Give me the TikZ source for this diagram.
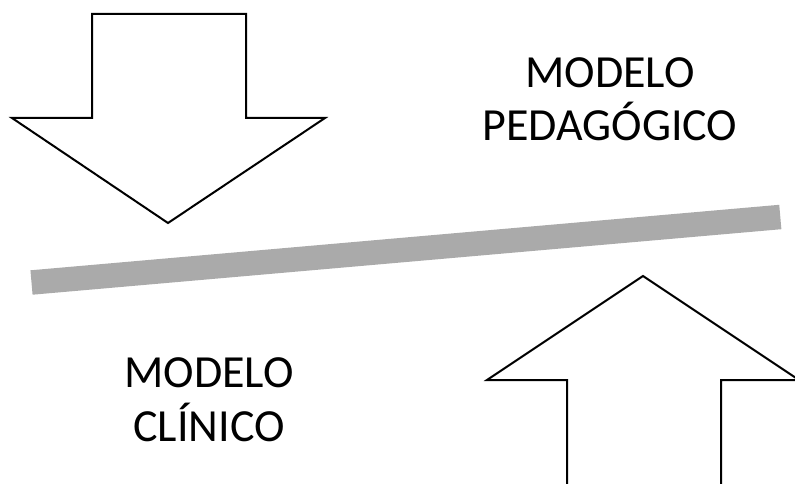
\documentclass[tikz,border=0pt]{standalone}
\usepackage{fontspec}
\setmainfont{Carlito}
\definecolor{bargray}{HTML}{AAAAAA}
\tikzset{
  bigarrow/.style={draw=black, line width=2pt, fill=white, line join=miter},
  label/.style={align=center, anchor=base, inner sep=0pt, font=\fontsize{46}{54}\selectfont}
}
\begin{document}
\begin{tikzpicture}[x=1pt,y=-1pt]
    \useasboundingbox (0,0) rectangle (795,484);
    \clip (0,0) rectangle (795,484);
    % arrow pointing down
    \draw[bigarrow] (92,14) -- (246,14) -- (246,118) -- (325,118)
        -- (168,223) -- (12,118) -- (92,118) -- cycle;
    % tilted bar
    \draw[bargray, line width=24.5pt] (31.5,282.5) -- (780.3,217);
    % arrow pointing up
    \draw[bigarrow] (567,500) -- (567,380) -- (487,380) -- (643,276)
        -- (799,380) -- (721,380) -- (721,500);
    \node[label] (pedag) at (610,141) {MODELO\\PEDAGÓGICO};
    \node[label] (clinic) at (209,441) {MODELO\\CLÍNICO};
\end{tikzpicture}
\end{document}
